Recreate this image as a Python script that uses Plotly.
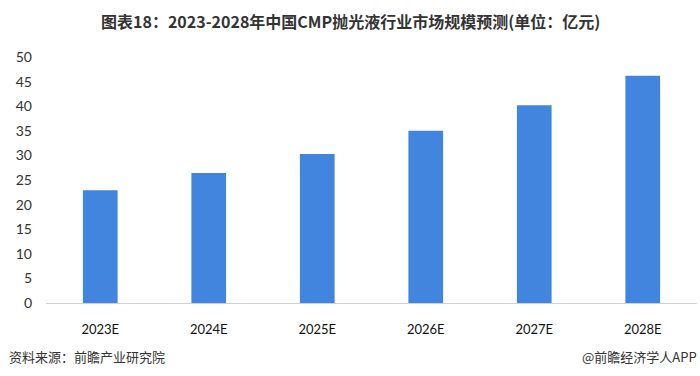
import plotly.graph_objects as go

categories = ["2023E", "2024E", "2025E", "2026E", "2027E", "2028E"]
values = [22.9, 26.4, 30.3, 35.0, 40.2, 46.2]
y_ticks = [0, 5, 10, 15, 20, 25, 30, 35, 40, 45, 50]

title_text = "图表18：2023-2028年中国CMP抛光液行业市场规模预测(单位：亿元)"
source_text = "资料来源：前瞻产业研究院"
brand_text = "@前瞻经济学人APP"

W, H = 700, 376
l, r, t, b = 46, 3, 57, 73
pw, ph = W - l - r, H - t - b

def px(x):
    return (x - l) / pw

def py(y):
    return (H - b - y) / ph

fig = go.Figure()
fig.add_trace(go.Bar(
    x=categories, y=values,
    marker=dict(color="#4285DE", line=dict(width=0)),
    width=0.32,
))

fig.update_layout(
    width=W, height=H,
    margin=dict(l=l, r=r, t=t, b=b),
    paper_bgcolor="white", plot_bgcolor="white",
    showlegend=False,
    font=dict(family="Lato, sans-serif", color="#333333"),
    xaxis=dict(
        showgrid=False, showline=True, linecolor="#d0d0d0", linewidth=1,
        ticks="", ticklabelstandoff=14,
        tickfont=dict(size=13, color="#111111", family="Lato, sans-serif"),
    ),
    yaxis=dict(
        range=[0, 50], tickvals=y_ticks, showgrid=False, zeroline=False,
        showline=False, ticks="", ticklabelstandoff=13,
        tickfont=dict(size=14, color="#333333", family="Lato, sans-serif"),
    ),
    annotations=[
        dict(text="<b>" + title_text + "</b>", x=px(350), xref="paper", xanchor="center",
             y=py(21), yref="paper", yanchor="middle", showarrow=False,
             font=dict(size=16, color="#333333", family="Noto Sans CJK SC")),
        dict(text=source_text, x=px(7), y=py(356), xref="paper", yref="paper", showarrow=False,
             xanchor="left", yanchor="middle",
             font=dict(size=13, color="#333333", family="Noto Sans CJK SC")),
        dict(text=brand_text, x=px(699), y=py(356), xref="paper", yref="paper", showarrow=False,
             xanchor="right", yanchor="middle",
             font=dict(size=13, color="#333333", family="Noto Sans CJK SC")),
    ],
)

fig.write_html("out.html", config={"displayModeBar": False},
               post_script="document.body.style.margin='0';")
